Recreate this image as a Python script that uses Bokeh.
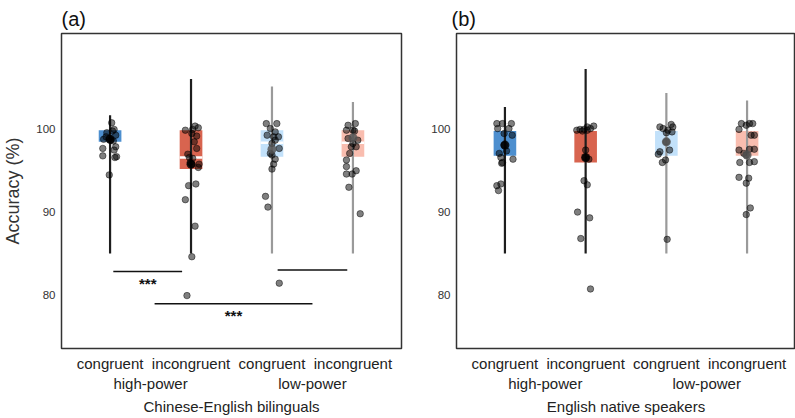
from bokeh.plotting import figure
from bokeh.layouts import row
from bokeh.models import FixedTicker, LinearAxis, Range1d
from bokeh.embed import file_html
from bokeh.resources import INLINE

# ---------------- data ----------------
conditions = ["congruent", "incongruent", "congruent", "incongruent"]
groups = ["high-power", "low-power"]
y_ticks = [80, 90, 100]

# Panel (a) Chinese-English bilinguals: individual accuracies and jitter
a1_vals = [100.8, 100.0, 99.8, 99.6, 99.3, 99.1, 98.9, 98.8, 98.7, 98.6, 97.9, 97.7, 97.5, 96.8, 96.7, 96.6, 94.5]
a1_jit = [0.02, 0.05, 0.03, -0.04, 0.07, -0.05, -0.01, -0.08, 0.01, 0.04, 0.07, -0.09, 0.05, -0.09, 0.08, 0.06, -0.01]
a2_vals = [100.4, 100.2, 100.0, 99.9, 99.5, 99.2, 98.5, 97.7, 97.0, 96.6, 96.5, 96.0, 95.8, 95.8, 95.4, 93.4, 93.2, 91.5, 88.3, 84.6, 79.9]
a2_jit = [0.05, 0.09, 0.02, -0.07, 0.01, 0.07, 0.04, 0.07, -0.04, -0.02, 0.02, -0.01, 0.01, 0.10, 0.09, 0.06, -0.03, -0.07, 0.05, 0.01, -0.05]
a3_vals = [100.7, 100.7, 100.1, 99.7, 99.3, 99.1, 99.1, 98.7, 98.3, 97.7, 97.1, 96.9, 96.4, 95.8, 95.2, 91.9, 90.6, 81.4]
a3_jit = [-0.07, 0.06, -0.02, 0.04, -0.06, 0.02, 0.08, 0.04, 0.00, 0.09, -0.02, 0.0, 0.04, 0.02, 0.0, -0.08, -0.05, 0.09]
a4_vals = [100.7, 100.5, 99.9, 99.9, 99.8, 98.9, 98.7, 98.3, 97.9, 97.9, 97.1, 96.3, 95.5, 95.0, 94.6, 94.6, 93.0, 89.8]
a4_jit = [0.03, -0.06, -0.08, 0.0, 0.02, -0.06, 0.06, 0.0, -0.02, 0.04, -0.04, -0.08, -0.08, 0.04, -0.08, -0.01, -0.05, 0.09]

# Panel (b) English native speakers
b1_vals = [100.7, 100.7, 100.7, 100.1, 100.1, 99.5, 99.3, 98.1, 97.4, 97.1, 96.6, 96.4, 96.0, 95.9, 93.4, 93.2, 92.6]
b1_jit = [-0.10, -0.03, 0.08, -0.09, 0.05, -0.01, 0.09, -0.01, 0.02, -0.07, -0.05, 0.10, -0.03, -0.04, -0.05, -0.10, -0.08]
b2_vals = [100.4, 100.3, 100.1, 100.0, 100.0, 99.9, 99.9, 99.8, 97.5, 96.6, 96.4, 93.8, 93.3, 90.0, 89.3, 86.8, 80.7]
b2_jit = [0.10, 0.02, 0.06, -0.02, -0.07, -0.11, 0.02, -0.04, 0.0, 0.0, 0.04, -0.02, 0.02, -0.10, 0.05, -0.06, 0.06]
b3_vals = [100.6, 100.3, 100.3, 100.1, 99.9, 99.7, 99.6, 98.5, 97.5, 97.3, 97.0, 96.3, 96.0, 86.7]
b3_jit = [0.06, -0.08, 0.08, -0.04, 0.02, 0.07, 0.0, 0.0, 0.04, -0.08, -0.10, -0.01, -0.05, 0.01]
b4_vals = [100.7, 100.7, 100.7, 100.5, 100.0, 99.3, 99.3, 97.6, 97.6, 97.5, 97.1, 96.9, 96.1, 96.0, 96.0, 94.2, 94.1, 93.5, 90.5, 89.7]
b4_jit = [-0.07, 0.03, 0.07, -0.01, -0.10, 0.05, 0.09, 0.03, 0.09, -0.10, -0.04, -0.01, 0.09, -0.09, 0.03, -0.10, 0.02, -0.01, 0.04, -0.01]

# Box (interquartile) limits, medians, vertical range lines and means
a_box_low = [98.5, 95.2, 96.7, 96.7]
a_box_high = [99.9, 99.9, 99.9, 99.9]
a_median = [None, 96.6, 98.4, 98.4]
a_line_low = [85.0, 85.0, 85.0, 85.0]
a_line_high = [101.7, 106.1, 105.2, 103.3]
a_means = [98.8, 95.8, 97.6, 99.0]

b_box_low = [96.8, 96.0, 96.8, 96.8]
b_box_high = [99.8, 99.8, 99.8, 99.8]
b_median = [None, None, None, None]
b_line_low = [85.0, 85.0, 85.0, 85.0]
b_line_high = [102.7, 107.3, 104.4, 103.5]
b_means = [98.1, 96.6, 98.5, 96.9]

# significance brackets (panel a)
sig_x0 = [1.04, 3.07, 1.55]
sig_x1 = [1.89, 3.93, 3.50]
sig_y = [82.8, 83.0, 78.9]
sig_label = ["***", "", "***"]

# ---------------- styles ----------------
box_colors = ["#4d8fcf", "#d8644f", "#c2e1fa", "#f9bdaf"]
line_colors = ["#1e1e1e", "#1e1e1e", "#9a9a9a", "#9a9a9a"]
mean_colors = ["#000000", "#000000", "#555555", "#555555"]
FONT = "Liberation Sans"


def style_axis(ax, size, color, standoff):
    ax.major_tick_line_color = None
    ax.minor_tick_line_color = None
    ax.major_tick_out = 0
    ax.major_tick_in = 0
    ax.minor_tick_out = 0
    ax.minor_tick_in = 0
    ax.axis_line_color = None
    ax.major_label_text_font_size = size
    ax.major_label_text_font = FONT
    ax.major_label_text_color = color
    ax.major_label_standoff = standoff


def make_panel(title, width, bl, br, vals, jits, box_low, box_high, medians,
               line_low, line_high, means, xlabel, ylabel, title_offset):
    p = figure(width=width, height=418, x_range=Range1d(0.4, 4.6), y_range=Range1d(73.5, 111.6),
               output_backend="svg", toolbar_location=None,
               min_border_left=bl, min_border_right=br, min_border_top=33, min_border_bottom=70,
               title=title)
    p.title.text_font_size = "20px"
    p.title.text_font_style = "normal"
    p.title.text_font = FONT
    p.title.text_color = "#111111"
    p.title.standoff = 7
    p.title.offset = title_offset
    p.xgrid.visible = False
    p.ygrid.visible = False
    p.outline_line_color = "#333333"
    p.outline_line_width = 1.5
    p.background_fill_color = "white"
    p.border_fill_color = "white"

    xs = [1, 2, 3, 4]
    # boxes
    p.quad(left=[x - 0.14 for x in xs], right=[x + 0.14 for x in xs], bottom=box_low, top=box_high,
           fill_color=box_colors, line_color=None)
    # medians
    mx = [x for x, m in zip(xs, medians) if m is not None]
    my = [m for m in medians if m is not None]
    if mx:
        p.segment(x0=[x - 0.14 for x in mx], x1=[x + 0.14 for x in mx], y0=my, y1=my,
                  line_color="white", line_width=2.5)
    # vertical lines
    p.segment(x0=xs, x1=xs, y0=line_low, y1=line_high, line_color=line_colors, line_width=2.2)
    # points
    px, py = [], []
    for i, (v, j) in enumerate(zip(vals, jits)):
        px += [xs[i] + jj for jj in j]
        py += list(v)
    p.scatter(px, py, size=6.5, fill_color="black", fill_alpha=0.5, line_color="black", line_alpha=0.45)
    # means
    p.scatter(xs, means, size=9, fill_color=mean_colors, fill_alpha=0.85, line_color=None)

    # axes
    p.yaxis.ticker = FixedTicker(ticks=y_ticks)
    style_axis(p.yaxis[0], "11.5px", "#333333", 6)
    if ylabel:
        p.yaxis.axis_label = ylabel
        p.yaxis.axis_label_text_font_size = "18px"
        p.yaxis.axis_label_text_font_style = "normal"
        p.yaxis.axis_label_text_font = FONT
        p.yaxis.axis_label_text_color = "#333333"
        p.yaxis.axis_label_standoff = 10

    xa = p.xaxis[0]
    xa.ticker = FixedTicker(ticks=xs)
    xa.major_label_overrides = {1: conditions[0], 2: conditions[1], 3: conditions[2], 4: conditions[3]}
    style_axis(xa, "15px", "#222222", 6)

    xa2 = LinearAxis(ticker=FixedTicker(ticks=[1.5, 3.5]),
                     major_label_overrides={1.5: groups[0], 3.5: groups[1]})
    style_axis(xa2, "15px", "#222222", 0)
    xa2.axis_label = xlabel
    xa2.axis_label_text_font_size = "15px"
    xa2.axis_label_text_font_style = "normal"
    xa2.axis_label_text_font = FONT
    xa2.axis_label_text_color = "#222222"
    xa2.axis_label_standoff = 3
    p.add_layout(xa2, "below")
    return p


pa = make_panel("(a)", 403, 61, 2,
                [a1_vals, a2_vals, a3_vals, a4_vals], [a1_jit, a2_jit, a3_jit, a4_jit],
                a_box_low, a_box_high, a_median, a_line_low, a_line_high, a_means,
                "Chinese-English bilinguals", "Accuracy (%)", 0)
# significance brackets
pa.segment(x0=sig_x0, x1=sig_x1, y0=sig_y, y1=sig_y, line_color="#111111", line_width=1.5)
sx = [(a + b) / 2 for a, b, t in zip(sig_x0, sig_x1, sig_label) if t]
sy = [y - 0.35 for y, t in zip(sig_y, sig_label) if t]
st = [t for t in sig_label if t]
pa.text(x=sx, y=sy, text=st, text_align="center", text_baseline="top",
        text_font_size="15px", text_font_style="bold", text_color="#111111")

pb = make_panel("(b)", 392, 53, 0,
                [b1_vals, b2_vals, b3_vals, b4_vals], [b1_jit, b2_jit, b3_jit, b4_jit],
                b_box_low, b_box_high, b_median, b_line_low, b_line_high, b_means,
                "English native speakers", None, -5)

layout = row(pa, pb, spacing=0)
open("out.html", "w").write(file_html(layout, INLINE))
